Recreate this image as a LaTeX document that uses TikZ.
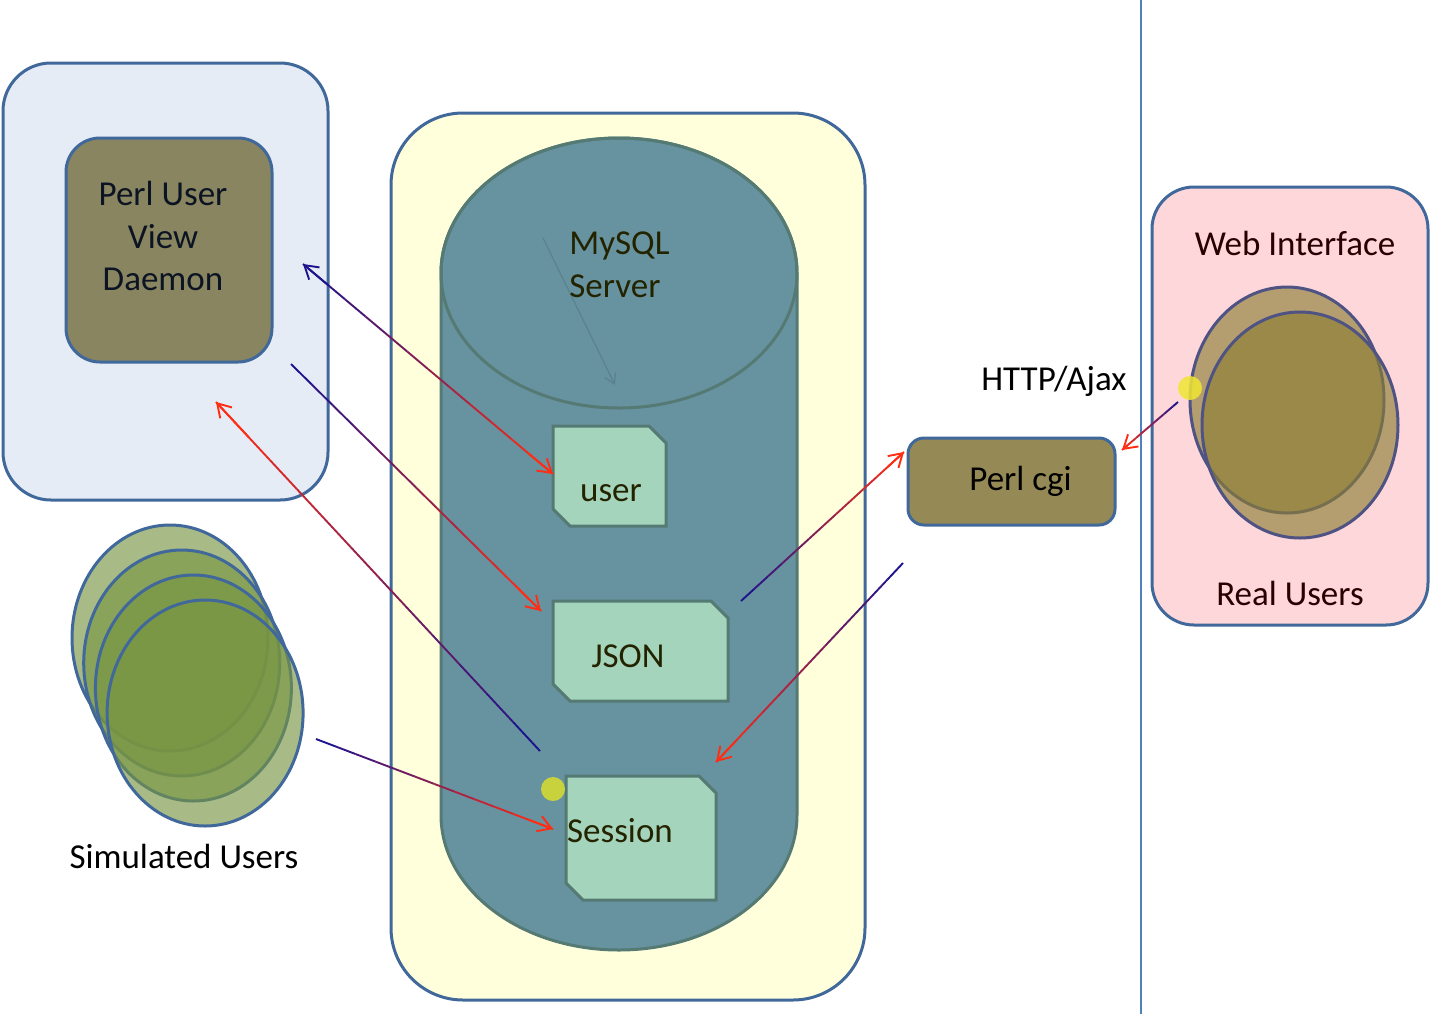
\documentclass[tikz,border=0pt]{standalone}
\usepackage{fontspec}
\setmainfont{Carlito}
\usetikzlibrary{arrows.meta,calc}

\definecolor{edgeblue}{RGB}{65,104,154}
\definecolor{panelblue}{RGB}{229,236,246}
\definecolor{daemonfill}{RGB}{136,133,96}
\definecolor{dbpanel}{RGB}{255,255,220}
\definecolor{dbfill}{RGB}{103,147,160}
\definecolor{dbedge}{RGB}{85,122,116}
\definecolor{tablefill}{RGB}{164,212,188}
\definecolor{cgifill}{RGB}{149,138,85}
\definecolor{webpanel}{RGB}{253,215,218}
\definecolor{realfill}{RGB}{140,126,51}
\definecolor{realedge}{RGB}{79,83,131}
\definecolor{simfill}{RGB}{119,149,66}
\definecolor{flowstart}{RGB}{30,20,140}
\definecolor{flowend}{RGB}{255,45,20}
\definecolor{divider}{RGB}{79,129,189}
\definecolor{dbtext}{RGB}{35,35,0}
\definecolor{webtext}{RGB}{40,0,0}
\definecolor{daemontext}{RGB}{12,20,35}
\definecolor{sessiondot}{RGB}{200,210,60}
\definecolor{webdot}{RGB}{240,230,50}

% linha com degradê azul -> vermelho
\newcommand{\flowline}[2]{%
  \foreach \k in {0,...,11}{%
    \pgfmathtruncatemacro{\mixp}{\k*100/11}
    \draw[flow, flowend!\mixp!flowstart] ($(#1)!{\k/12}!(#2)$) -- ($(#1)!{(\k+1)/12}!(#2)$);
  }%
  \draw[flow, flowend, -{Straight Barb[length=6.5pt,width=8pt]}] ($(#1)!0.9!(#2)$) -- (#2);
}

\begin{document}
\begin{tikzpicture}[x=0.5pt, y=-0.5pt,
  panel/.style={draw=edgeblue, line width=1.5pt},
  tablebox/.style={draw=dbedge, fill=tablefill, line width=1.5pt},
  label/.style={font=\fontsize{17.5}{21.25}\selectfont, inner sep=0pt},
  flow/.style={line width=0.95pt},
  simuser/.style={draw=edgeblue, line width=1.5pt, fill=simfill, fill opacity=0.64},
  realuser/.style={draw=realedge, line width=1.5pt, fill=realfill, fill opacity=0.64}]
  \useasboundingbox (0,0) rectangle (1431,1014);

  % Painéis
  \node[panel, fill=panelblue, rounded corners=24pt, minimum width=162.5pt, minimum height=218.5pt] (daemonpanel) at (165.5,281.5) {};
  \node[panel, fill=daemonfill, rounded corners=17pt, minimum width=103pt, minimum height=112pt] (daemon) at (169,250) {};
  \node[panel, fill=dbpanel, rounded corners=36pt, minimum width=237pt, minimum height=443.5pt] (dbpanel) at (628,556.5) {};
  \node[panel, fill=webpanel, rounded corners=21pt, minimum width=138pt, minimum height=219pt] (webpanel) at (1290,406) {};
  \node[panel, fill=cgifill, rounded corners=8pt, minimum width=103.5pt, minimum height=43.5pt, label, text=black] (cgi) at (1011.5,481.5) {\hspace*{9pt}Perl cgi};

  % Cilindro MySQL
  \draw[dbedge, fill=dbfill, line width=1.5pt] (441,273) -- (441,815)
    arc[start angle=180, end angle=0, x radius=178, y radius=135] -- (797,273)
    arc[start angle=0, end angle=-180, x radius=178, y radius=135] -- cycle;
  \draw[dbedge, line width=1.5pt] (619,273) ellipse[x radius=178, y radius=135];
  \coordinate (querystart) at (543,238);
  \coordinate (queryend) at (615,385);
  \draw[dbfill!88!black, line width=0.6pt, -{Straight Barb[length=5pt,width=6pt]}] (querystart) -- (queryend);

  % Tabelas
  \draw[tablebox] (553,426) -- (649,426) -- (666,443) -- (666,526) -- (570,526) -- (553,509) -- cycle;
  \draw[tablebox] (553,601) -- (711,601) -- (728,618) -- (728,701) -- (570,701) -- (553,684) -- cycle;
  \draw[tablebox] (566,776) -- (699,776) -- (716,793) -- (716,900) -- (583,900) -- (566,883) -- cycle;
  \fill[sessiondot] (553,789) circle[radius=12];

  % Textos
  \node[label, align=center, text=daemontext] (daemonlabel) at (163,236) {Perl User\\View\\Daemon};
  \node[label, align=left, anchor=west, text=dbtext] (dblabel) at (569,265) {MySQL\\Server};
  \node[label, text=dbtext] (user) at (611,493) {user};
  \node[label, text=dbtext] (json) at (628,656) {JSON};
  \node[label, text=dbtext] (session) at (620,831) {Session};
  \node[label, text=black] (ajax) at (1054,381) {HTTP/Ajax};
  \node[label, text=webtext] (weblabel) at (1295,243) {Web Interface};
  \node[label, text=webtext] (reallabel) at (1290,593) {Real Users};
  \node[label, text=black] (simlabel) at (184,856) {Simulated Users};

  % Usuários simulados
  \foreach \i in {0,1,2,3}
    \draw[simuser] (170+11.7*\i,638+25*\i) ellipse[x radius=98, y radius=113];

  % Usuários reais
  \draw[realuser] (1287,400) ellipse[x radius=97, y radius=113];
  \draw[realuser] (1300,425) ellipse[x radius=98, y radius=113];
  \fill[webdot, opacity=0.85] (1190,388) circle[radius=12];

  \draw[divider, line width=1pt] (1141,0) -- (1141,1014);

  % Fluxos
  \coordinate (daemonin) at (303,264);
  \coordinate (usertab) at (553,474);
  \coordinate (daemonfeed) at (291,364);
  \coordinate (jsontab) at (541,611);
  \coordinate (sessionpoll) at (540,751);
  \coordinate (daemonback) at (216,402);
  \coordinate (simout) at (316,739);
  \coordinate (sessiontab) at (553,829);
  \coordinate (jsonout) at (741,601);
  \coordinate (cgiin) at (904,452);
  \coordinate (cgiout) at (903,563);
  \coordinate (sessionin) at (716,762);
  \coordinate (webout) at (1178,402);
  \coordinate (cgiright) at (1122,450);

  \flowline{daemonin}{usertab}
  \draw[flow, flowstart, -{Straight Barb[length=6.5pt,width=8pt]}] ($(daemonin)!0.1!(usertab)$) -- (daemonin);
  \flowline{daemonfeed}{jsontab}
  \flowline{sessionpoll}{daemonback}
  \flowline{simout}{sessiontab}
  \flowline{jsonout}{cgiin}
  \flowline{cgiout}{sessionin}
  \flowline{webout}{cgiright}
\end{tikzpicture}
\end{document}
